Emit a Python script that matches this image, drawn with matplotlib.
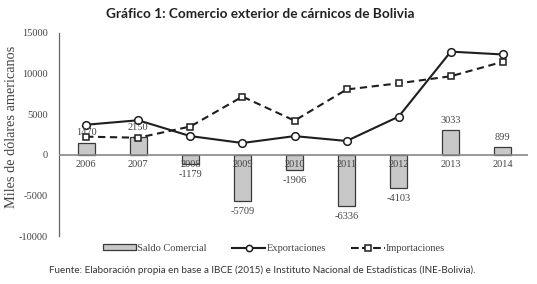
import numpy as np
import matplotlib.pyplot as plt
from matplotlib.lines import Line2D
from matplotlib.patches import Patch

years = ['2006', '2007', '2008', '2009', '2010', '2011', '2012', '2013', '2014']
saldo = [1470, 2150, -1179, -5709, -1906, -6336, -4103, 3033, 899]
exportaciones = [3700, 4250, 2300, 1450, 2300, 1700, 4700, 12700, 12350]
importaciones = [2230, 2100, 3480, 7160, 4200, 8040, 8800, 9670, 11450]

serif = 'Liberation Serif'
txt_gray = '#444444'

fig = plt.figure(figsize=(5.37, 2.84), dpi=100)
ax = fig.add_axes([0.110, 0.169, 0.873, 0.715])

x = np.arange(len(years))
ax.bar(x, saldo, width=0.33, color='#c8c8c8', edgecolor='#3a3a3a', linewidth=0.9, zorder=2)
ax.plot(x, exportaciones, '-o', color='#1e1e1e', lw=1.5, ms=5.5,
        mfc='white', mec='#1e1e1e', mew=1.1, zorder=4)
ax.plot(x, importaciones, '--s', color='#1e1e1e', lw=1.5, ms=5,
        mfc='white', mec='#1e1e1e', mew=1.1, dashes=(3.5, 2.2), zorder=4)

# bar value labels
for xi, v in zip(x, saldo):
    if v >= 0:
        ax.annotate(str(v), (xi, v), xytext=(0, 4), textcoords='offset points',
                    ha='center', va='bottom', fontsize=7.5, family=serif, color=txt_gray, zorder=5)
    else:
        ax.annotate(str(v), (xi, v), xytext=(0, -4), textcoords='offset points',
                    ha='center', va='top', fontsize=7.5, family=serif, color=txt_gray, zorder=5)

# year labels just under the zero line
for xi, yr in zip(x, years):
    ax.annotate(yr, (xi, 0), xytext=(0, -4), textcoords='offset points',
                ha='center', va='top', fontsize=7.5, family=serif, color=txt_gray, zorder=5)

ax.set_xlim(-0.52, 8.48)
ax.set_ylim(-10000, 15000)
ax.set_yticks([-10000, -5000, 0, 5000, 10000, 15000])
ax.set_yticklabels(['-10000', '-5000', '0', '5000', '10000', '15000'],
                   family=serif, fontsize=7.5, color=txt_gray)
ax.set_xticks([])
ax.tick_params(axis='y', length=0, pad=8)
for s in ['top', 'right', 'bottom']:
    ax.spines[s].set_visible(False)
ax.spines['left'].set_color('#666666')
ax.spines['left'].set_linewidth(0.9)
ax.axhline(0, color='#888888', lw=1.2, zorder=3)

fig.text(0.022, 0.553, 'Miles de dólares americanos', rotation=90, ha='center', va='center',
         family=serif, fontsize=10.3, color=txt_gray)

handles = [
    Patch(facecolor='#c8c8c8', edgecolor='#3a3a3a', linewidth=0.9),
    Line2D([], [], color='#1e1e1e', lw=1.5, marker='o', ms=4.5, mfc='white', mew=1.1),
    Line2D([], [], color='#1e1e1e', lw=1.5, ls='--', marker='s', ms=4.5, mfc='white', mew=1.1),
]
leg = fig.legend(handles, ['Saldo Comercial', 'Exportaciones', 'Importaciones'],
                 loc='center', bbox_to_anchor=(0.51, 0.125), ncol=3, frameon=False,
                 prop={'family': serif, 'size': 7.5}, handlelength=3.2, handleheight=0.55,
                 handletextpad=0.15, columnspacing=2.4)
for t in leg.get_texts():
    t.set_color(txt_gray)

fig.text(0.485, 0.95, 'Gráfico 1: Comercio exterior de cárnicos de Bolivia',
         ha='center', va='center', fontsize=9.8, fontweight='bold', family='Lato', color='#222222')
fig.text(0.488, 0.05, 'Fuente: Elaboración propia en base a IBCE (2015) e Instituto Nacional de Estadísticas (INE-Bolivia).',
         ha='center', va='center', fontsize=7.1, family='Lato', color='#333333')

fig.savefig('out.png', dpi=100)
